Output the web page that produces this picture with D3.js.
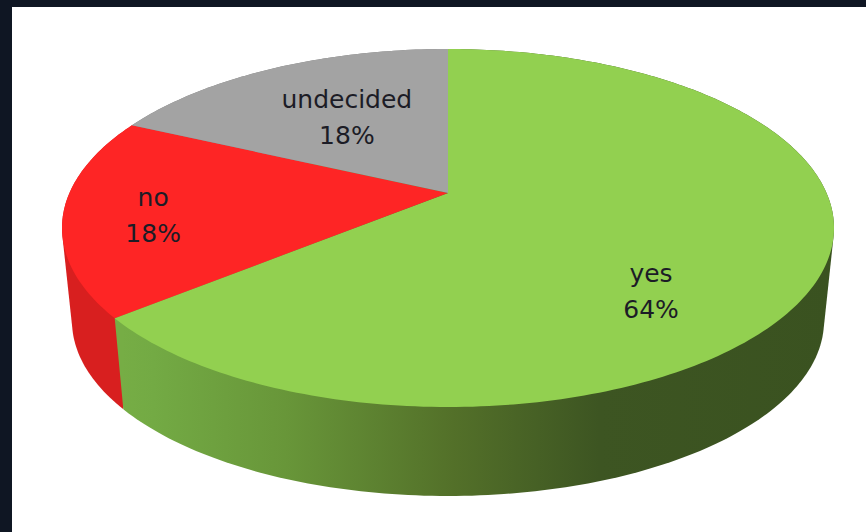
<!DOCTYPE html>
<html>
<head>
<meta charset="utf-8">
<script src="https://cdn.jsdelivr.net/npm/d3@7"></script>
<style>
  html, body { margin: 0; padding: 0; background: #0f1623; }
  svg { display: block; }
  text { font-family: "DejaVu Sans", sans-serif; font-size: 25px; fill: #1c1c26; text-anchor: middle; }
</style>
</head>
<body>
<svg id="chart" width="866" height="532"></svg>
<script>
// Survey answers, clockwise from twelve o'clock
const categories = ["yes", "no", "undecided"];
const shares = [64, 18, 18];
const topColors = ["#92d050", "#fe2525", "#a3a3a3"];
const wallColors = ["#6f9f3e", "#d81f1f", "#7c7c7c"];

const width = 866, height = 532;
const svg = d3.select("#chart");

svg.append("rect").attr("x", 12).attr("y", 7)
  .attr("width", width - 12).attr("height", height - 7).attr("fill", "#ffffff");

// Top rim and bottom rim of the tilted disc, as ellipses in pixels
const rimTop = {
  x: d3.scaleLinear().domain([-1, 1]).range([62, 834]),
  y: d3.scaleLinear().domain([-1, 1]).range([49, 407])
};
const rimBottom = {
  x: d3.scaleLinear().domain([-1, 1]).range([72, 824]),
  y: d3.scaleLinear().domain([-1, 1]).range([146, 496])
};

// Perspective shift: the disc's centre appears above the middle of its ellipse
const tilt = 0.196;
function project(angle, radius = 1) {
  const u = radius * Math.sin(angle), v = -radius * Math.cos(angle);
  const d = 1 - tilt * v;
  return [u * Math.sqrt(1 - tilt * tilt) / d, (v - tilt) / d];
}
const toPixels = (rim, p) => [rim.x(p[0]), rim.y(p[1])];

const pie = d3.pie().sort(null).value(d => d)(shares);
const line = d3.line();
const step = Math.PI / 180;
const angleRange = (a, b) => d3.range(a, b, step).concat([b]);

// Shading of the front wall runs left to right, lit on the left
const defs = svg.append("defs");
const gradient = defs.append("linearGradient")
  .attr("id", "wallGreen")
  .attr("gradientUnits", "userSpaceOnUse")
  .attr("x1", 122).attr("x2", 834).attr("y1", 0).attr("y2", 0);
[[0, "#76ad45"], [0.044, "#73aa44"], [0.23, "#689639"], [0.465, "#537029"], [0.67, "#3d5522"], [1, "#3a5220"]]
  .forEach(([o, c]) => gradient.append("stop").attr("offset", o).attr("stop-color", c));

// Outer walls: each is the hull of its two rim arcs. Drawn last to first so the
// lit green wall overlaps the seam, then the top faces cover the inner parts.
const walls = svg.append("g");
pie.slice().reverse().forEach(s => {
  const angles = angleRange(s.startAngle, s.endAngle);
  const outline = d3.polygonHull(
    angles.map(a => toPixels(rimTop, project(a)))
      .concat(angles.map(a => toPixels(rimBottom, project(a))))
  );
  walls.append("path")
    .attr("d", line(outline) + "Z")
    .attr("fill", s.index === 0 ? "url(#wallGreen)" : wallColors[s.index]);
});

svg.append("g").selectAll("path").data(pie).join("path")
  .attr("d", s => {
    const rimPoints = angleRange(s.startAngle, s.endAngle).map(a => toPixels(rimTop, project(a)));
    const apex = toPixels(rimTop, project(0, 0));
    return line([apex].concat(rimPoints)) + "Z";
  })
  .attr("fill", (s, i) => topColors[i]);

// Two-line data labels: category, then share
const labelAnchors = [[0.526, 0.40], [-0.764, -0.022], [-0.262, -0.57]];
const labels = svg.append("g").selectAll("text").data(pie).join("text")
  .attr("transform", (s, i) => {
    const [px, py] = labelAnchors[i];
    return `translate(${rimTop.x(px)},${rimTop.y(py)})`;
  });
labels.append("tspan").attr("x", 0).attr("y", -18).text((s, i) => categories[i]);
labels.append("tspan").attr("x", 0).attr("y", 18).text(s => s.value + "%");
</script>
</body>
</html>
